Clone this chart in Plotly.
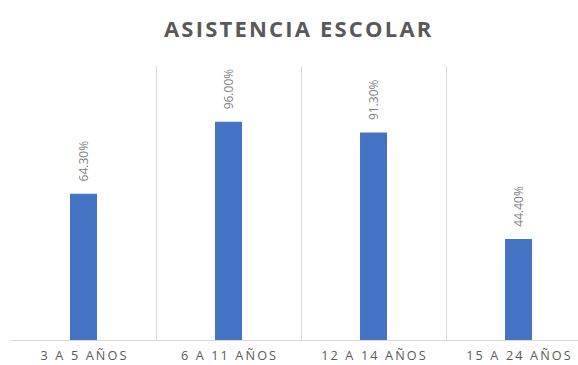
import plotly.graph_objects as go

categories = ["3 A 5 AÑOS", "6 A 11 AÑOS", "12 A 14 AÑOS", "15 A 24 AÑOS"]
values = [64.3, 96.0, 91.3, 44.4]
value_labels = ["64.30%", "96.00%", "91.30%", "44.40%"]
title_text = "ASISTENCIA ESCOLAR"


def spaced(s, gap="\u2009"):
    # widen tracking by inserting narrow spaces between glyphs
    return gap.join(list(s))


W, H = 578, 365
fig = go.Figure(
    go.Bar(
        x=categories,
        y=values,
        # leading no-break spaces lift the rotated labels off the bar tops
        text=["\u00a0\u00a0\u00a0" + t for t in value_labels],
        textposition="outside",
        textangle=-90,
        constraintext="none",
        textfont=dict(family="Open Sans, sans-serif", size=12, color="#7f7f7f"),
        marker=dict(color="#4472C4", line=dict(width=0)),
        cliponaxis=False,
    )
)

fig.update_layout(
    width=W,
    height=H,
    margin=dict(l=11, r=0, t=66, b=25),
    paper_bgcolor="white",
    plot_bgcolor="white",
    bargap=0.814,
    showlegend=False,
    title=dict(
        text=spaced(title_text, "\u200a"),
        x=0.515,
        xanchor="center",
        y=1 - 29 / H,
        yanchor="middle",
        font=dict(family="Open Sans, sans-serif", size=22, color="#595959", weight="bold"),
    ),
)

fig.update_xaxes(
    type="category",
    range=[-0.5, -0.5 + (W - 11) / 145],
    tickmode="array",
    tickvals=categories,
    ticktext=[spaced(c, "\u2009") for c in categories],
    tickson="boundaries",
    showgrid=True,
    gridcolor="#d9d9d9",
    gridwidth=1,
    showline=True,
    linecolor="#d9d9d9",
    linewidth=1,
    ticks="",
    ticklabelstandoff=4,
    tickfont=dict(family="Open Sans, sans-serif", size=12.7, color="#595959"),
    zeroline=False,
)

fig.update_yaxes(
    range=[0, 120.5],
    visible=False,
    showgrid=False,
    zeroline=False,
)

fig.write_html("out.html")
